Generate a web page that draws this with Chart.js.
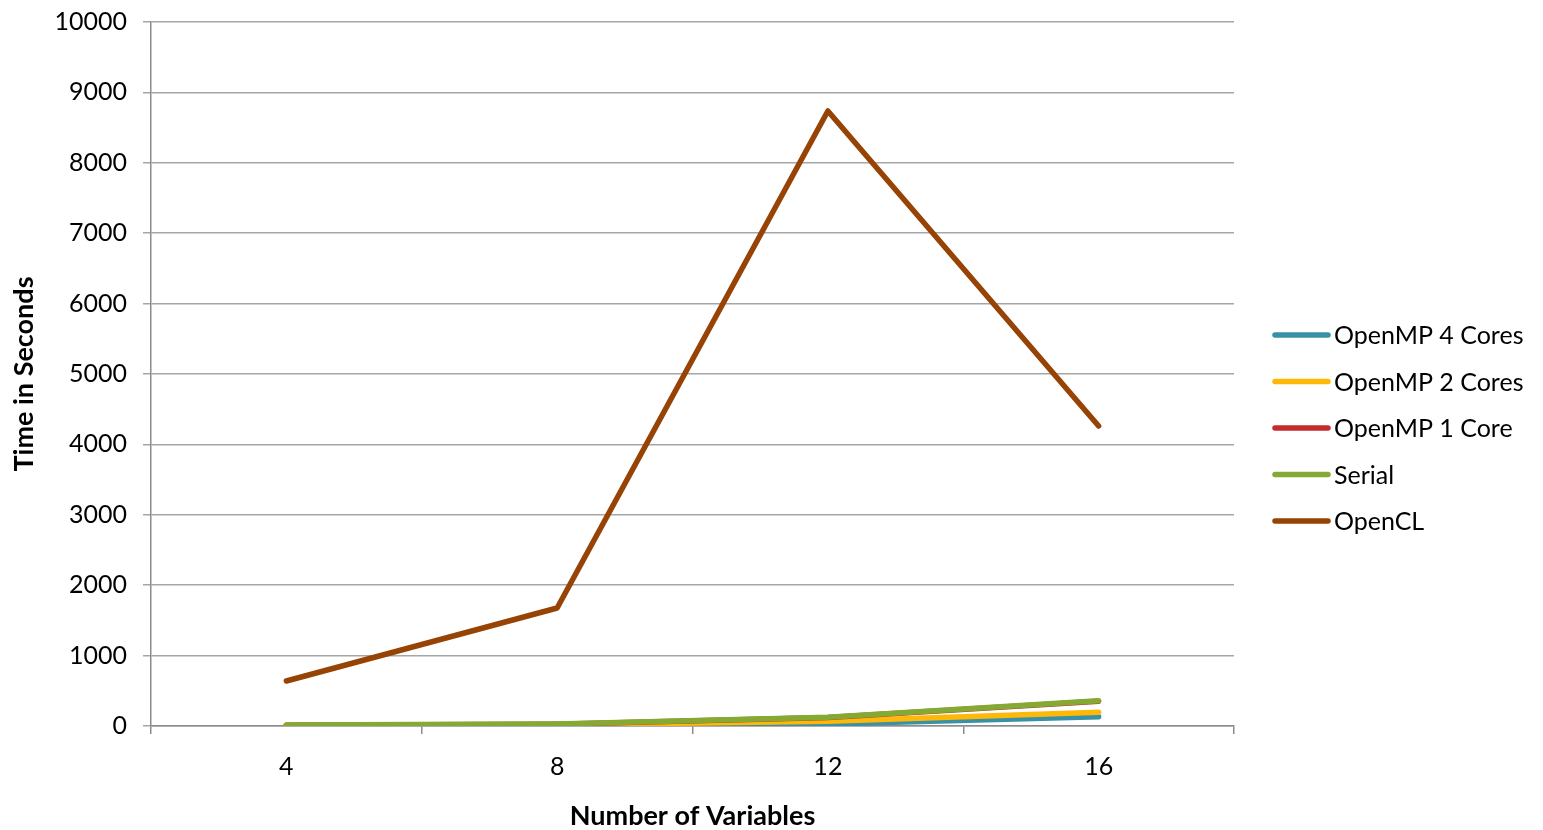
<!DOCTYPE html>
<html>
<head>
<meta charset="utf-8">
<script src="https://cdn.jsdelivr.net/npm/chart.js@4"></script>
<style>
html,body{margin:0;padding:0;background:#fff;}
#wrap{width:1543px;height:830px;position:relative;}
</style>
</head>
<body>
<div id="wrap"><canvas id="c" width="1543" height="830"></canvas></div>
<script>
const categories = ['4', '8', '12', '16'];
const openmp4 = [3, 8, 28, 132];
const openmp2 = [6, 15, 67, 195];
const openmp1 = [12, 26, 121, 352];
const serial = [14, 28, 124, 358];
const opencl = [639, 1676, 8736, 4261];
const seriesNames = ['OpenMP 4 Cores', 'OpenMP 2 Cores', 'OpenMP 1 Core', 'Serial', 'OpenCL'];
const seriesColors = ['#3891A7', '#FEB80A', '#C32D2E', '#84AA33', '#964305'];
const yTicks = [0, 1000, 2000, 3000, 4000, 5000, 6000, 7000, 8000, 9000, 10000];

const FONT = 'Lato, "Open Sans", sans-serif';
const seriesData = [openmp4, openmp2, openmp1, serial, opencl];

const datasets = seriesData.map((d, i) => ({
  label: seriesNames[i],
  data: d,
  borderColor: seriesColors[i],
  backgroundColor: seriesColors[i],
  borderWidth: 5.5,
  borderCapStyle: 'round',
  borderJoinStyle: 'round',
  pointRadius: 0,
  pointHoverRadius: 0,
  tension: 0,
  fill: false,
  order: seriesData.length - i
}));

const legendPlugin = {
  id: 'customLegend',
  afterDraw(chart) {
    const ctx = chart.ctx;
    ctx.save();
    const x0 = 1275, x1 = 1328, tx = 1334;
    const yStart = 335, step = 46.5;
    chart.data.datasets.forEach((ds, i) => {
      const y = yStart + i * step;
      ctx.strokeStyle = ds.borderColor;
      ctx.lineWidth = 5.5;
      ctx.lineCap = 'round';
      ctx.beginPath();
      ctx.moveTo(x0, y);
      ctx.lineTo(x1, y);
      ctx.stroke();
      ctx.fillStyle = '#000';
      ctx.font = '25px ' + FONT;
      ctx.textBaseline = 'middle';
      ctx.textAlign = 'left';
      ctx.fillText(ds.label, tx, y + 1);
    });
    ctx.restore();
  }
};

new Chart(document.getElementById('c'), {
  type: 'line',
  data: { labels: categories, datasets },
  plugins: [legendPlugin],
  options: {
    responsive: false,
    animation: false,
    events: [],
    layout: { padding: { left: 8, right: 309, top: 22, bottom: 0 } },
    plugins: {
      legend: { display: false },
      tooltip: { enabled: false },
      title: { display: false }
    },
    scales: {
      x: {
        type: 'category',
        offset: true,
        grid: {
          display: true,
          offset: true,
          drawOnChartArea: false,
          drawTicks: true,
          tickLength: 8,
          color: '#8c8c8c',
          lineWidth: 1.5
        },
        border: { display: true, color: '#8c8c8c', width: 1.5 },
        ticks: {
          color: '#000',
          font: { family: FONT, size: 25 },
          padding: 18,
          maxRotation: 0
        },
        title: {
          display: true,
          text: 'Number of Variables',
          color: '#000',
          font: { family: FONT, size: 27, weight: 'bold', lineHeight: 1.0 },
          padding: { top: 0, bottom: 0 }
        },
        afterFit(scale) { scale.height = 830 - 726; scale.paddingLeft = 0; scale.paddingRight = 0; }
      },
      y: {
        min: 0,
        max: 10000,
        afterBuildTicks(scale) { scale.ticks = yTicks.map(v => ({ value: v })); },
        grid: {
          color: '#a6a6a6',
          lineWidth: 1.5,
          drawTicks: true,
          tickLength: 8
        },
        border: { display: true, color: '#8c8c8c', width: 1.5 },
        ticks: {
          color: '#000',
          font: { family: FONT, size: 25 },
          padding: 16,
          callback: (v) => String(v)
        },
        title: {
          display: true,
          text: 'Time in Seconds',
          color: '#000',
          font: { family: FONT, size: 27, weight: 'bold' },
          padding: { top: 0, bottom: 0 }
        },
        afterFit(scale) { scale.width = 151 - 8; scale.paddingTop = 0; scale.paddingBottom = 0; }
      }
    }
  }
});
</script>
</body>
</html>
